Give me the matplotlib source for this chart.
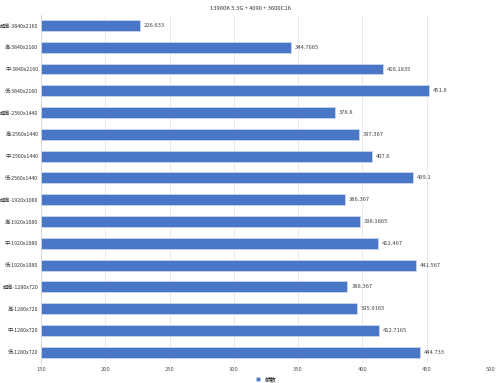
import numpy as np
import matplotlib
matplotlib.use('Agg')
import matplotlib.pyplot as plt
from matplotlib import rcParams

rcParams['font.family'] = ['Noto Sans CJK SC', 'DejaVu Sans']

title = '13900K 5.3G + 4090 + 3600C16'
labels = ['超高-3840x2160', '高-3840x2160', '中-3840x2160', '低-3840x2160',
          '超高-2560x1440', '高-2560x1440', '中-2560x1440', '低-2560x1440',
          '超高-1920x1080', '高-1920x1080', '中-1920x1080', '低-1920x1080',
          '超高-1280x720', '高-1280x720', '中-1280x720', '低-1280x720']
values = [226.633, 344.7665, 416.1835, 451.8,
          378.8, 397.367, 407.6, 439.1,
          386.367, 398.1665, 412.467, 441.567,
          388.367, 395.9165, 412.7165, 444.733]
value_text = ['226.633', '344.7665', '416.1835', '451.8',
              '378.8', '397.367', '407.6', '439.1',
              '386.367', '398.1665', '412.467', '441.567',
              '388.367', '395.9165', '412.7165', '444.733']
xticks = [150, 200, 250, 300, 350, 400, 450, 500]
series_name = '帧数'

fig = plt.figure(figsize=(5, 3.83), dpi=100)
ax = fig.add_axes([0.082, 0.052, 0.9, 0.91])
y = np.arange(len(labels))
ax.barh(y, np.array(values) - 150, left=150, height=0.5, color='#4a76c6',
        edgecolor='#c9d6ee', linewidth=0.6, label=series_name, zorder=3)
for yi, v, t in zip(y, values, value_text):
    ax.text(v + 3, yi, t, va='center', ha='left', fontsize=4.2, color='#444444')

ax.set_xlim(150, 500)
ax.set_ylim(15.5, -0.5)
ax.set_yticks(y)
ax.set_yticklabels(labels, fontsize=3.8, color='#333333')
ax.set_xticks(xticks)
ax.set_xticklabels([str(x) for x in xticks], fontsize=4.2, color='#555555')
ax.tick_params(axis='y', length=0, pad=2)
ax.tick_params(axis='x', length=0, pad=3)
ax.grid(axis='x', color='#e6e6e6', linewidth=0.6, zorder=0)
for s in ['top', 'right', 'bottom']:
    ax.spines[s].set_visible(False)
ax.spines['left'].set_color('#d9d9d9')
ax.spines['left'].set_linewidth(0.6)

fig.text(0.5, 0.985, title, ha='center', va='top', fontsize=4.2, color='#333333')
ax.legend(loc='upper center', bbox_to_anchor=(0.5, -0.03), frameon=False,
          fontsize=4.2, handlelength=0.7, handleheight=0.7, borderpad=0)

fig.savefig('out.png', dpi=100)
